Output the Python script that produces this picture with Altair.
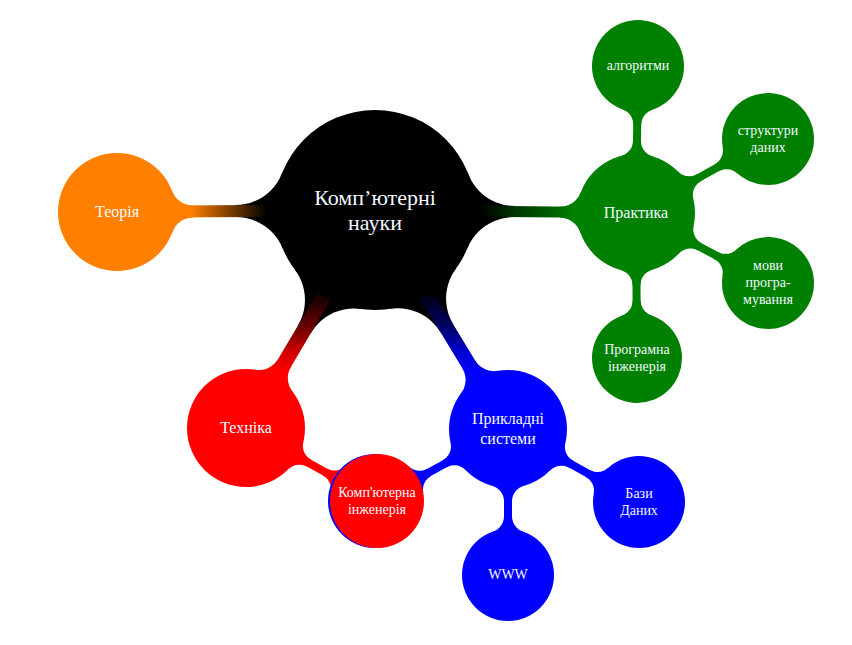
import math
import altair as alt
import pandas as pd

# ---------------- data ----------------
node_id = ["root", "theory", "practice", "algo", "struct", "lang", "softeng",
           "tech", "applied", "compeng", "db", "www"]
node_label = ["Комп’ютерні\nнауки", "Теорія", "Практика", "алгоритми",
              "структури\nданих", "мови\nпрогра-\nмування", "Програмна\nінженерія",
              "Техніка", "Прикладні\nсистеми", "Комп'ютерна\nінженерія",
              "Бази\nДаних", "WWW"]
node_x = [375, 117, 636, 638, 768, 768, 637, 246, 508, 377, 639, 508]
node_y = [210, 212, 213, 66, 139, 283, 358, 428, 429, 501, 502, 575]
node_r = [100, 59, 59, 46, 46, 46, 45, 59, 59, 47, 46, 46]
node_color = ["#000000", "#FF8000", "#008000", "#008000", "#008000", "#008000",
              "#008000", "#FF0000", "#0000FF", "#FF0000", "#0000FF", "#0000FF"]
node_font = [22, 16, 16, 14, 14, 14, 14, 16, 16, 14, 14, 14]

main_from = ["root", "root", "root", "root"]
main_to = ["theory", "practice", "tech", "applied"]

sub_from = ["practice", "practice", "practice", "practice",
            "tech", "applied", "applied", "applied"]
sub_to = ["algo", "struct", "lang", "softeng",
          "compeng", "compeng", "db", "www"]

# ---------------- styles ----------------
ROOT_FILLET = 50
CHILD_FILLET = 22
SUB_FILLET = 16
NECK = {"theory": 12, "practice": 11, "tech": 15, "applied": 15}
SUB_NECK = 8
LINE_HEIGHT = {22: 25, 16: 20, 14: 17}

pos = {k: (x, y, r, c) for k, x, y, r, c in zip(node_id, node_x, node_y, node_r, node_color)}

blocks, whites, necks = [], [], []
trails = {}


def end_piece(cx, cy, r, ux, uy, n, f, col):
    """fillet block + two carving circles at one end of a connector (u points outwards)"""
    vx, vy = -uy, ux
    off = n / 2 + f
    xc = math.sqrt((r + f) ** 2 - off ** 2)
    ht = off * r / (r + f)
    blocks.append(dict(x=cx, y=cy, x2=cx + ux * xc, y2=cy + uy * xc, w=2 * ht + 0.6, c=col))
    for sgn in (1, -1):
        whites.append(dict(x=cx + ux * xc + sgn * vx * off, y=cy + uy * xc + sgn * vy * off, r=f))


def connector(a, b, n, fa, fb, ca, cb, neck_color=None):
    ax, ay, ar, _ = pos[a]
    bx, by, br, _ = pos[b]
    dx, dy = bx - ax, by - ay
    L = math.hypot(dx, dy)
    ux, uy = dx / L, dy / L
    end_piece(ax, ay, ar, ux, uy, n, fa, ca)
    end_piece(bx, by, br, -ux, -uy, n, fb, cb)
    if neck_color is not None:
        necks.append(dict(x=ax, y=ay, x2=bx, y2=by, w=n, c=neck_color))
    else:
        s0, s1 = ar - 3, L - br + 3
        trails[b] = pd.DataFrame({"x": [ax + ux * s0, ax + ux * s1],
                                  "y": [ay + uy * s0, ay + uy * s1],
                                  "w": [n, n], "i": [0, 1]})


for a, b in zip(main_from, main_to):
    connector(a, b, NECK[b], ROOT_FILLET, CHILD_FILLET, pos[a][3], pos[b][3])
for a, b in zip(sub_from, sub_to):
    connector(a, b, SUB_NECK, SUB_FILLET, SUB_FILLET, pos[a][3], pos[a][3], pos[a][3])

X = alt.X("x:Q", scale=alt.Scale(domain=[8, 844]), axis=None)
Y = alt.Y("y:Q", scale=alt.Scale(domain=[8, 637], reverse=True), axis=None)


def stops(pairs):
    return [alt.GradientStop(offset=o, color=c) for o, c in pairs]


gradients = {
    "theory": alt.Gradient(gradient="linear", x1=0, y1=0, x2=1, y2=0, stops=stops([
        (0, "#FF8000"), (0.2, "#FF8000"), (0.5, "#8A4500"), (0.85, "#000000"), (1, "#000000")])),
    "practice": alt.Gradient(gradient="linear", x1=0, y1=0, x2=1, y2=0, stops=stops([
        (0, "#000000"), (0.12, "#000000"), (0.42, "#003800"), (0.72, "#006000"),
        (0.9, "#008000"), (1, "#008000")])),
    "tech": alt.Gradient(gradient="linear", x1=0, y1=0, x2=0, y2=1, stops=stops([
        (0, "#000000"), (0.1, "#150000"), (0.38, "#600000"), (0.65, "#D00000"),
        (0.85, "#FF0000"), (1, "#FF0000")])),
    "applied": alt.Gradient(gradient="linear", x1=0, y1=0, x2=0, y2=1, stops=stops([
        (0, "#000000"), (0.1, "#000015"), (0.38, "#000060"), (0.65, "#0000D0"),
        (0.85, "#0000FF"), (1, "#0000FF")])),
}

layers = []
layers.append(
    alt.Chart(pd.DataFrame(blocks)).mark_rule(strokeCap="butt").encode(
        x=X, y=Y, x2="x2:Q", y2="y2:Q", size=alt.Size("w:Q", scale=None),
        color=alt.Color("c:N", scale=None))
)
layers.append(
    alt.Chart(pd.DataFrame(whites)).mark_circle(opacity=1, strokeWidth=0, color="white")
    .transform_calculate(area="4 * datum.r * datum.r")
    .encode(x=X, y=Y, size=alt.Size("area:Q", scale=None))
)
layers.append(
    alt.Chart(pd.DataFrame(necks)).mark_rule(strokeCap="butt").encode(
        x=X, y=Y, x2="x2:Q", y2="y2:Q", size=alt.Size("w:Q", scale=None),
        color=alt.Color("c:N", scale=None))
)
for b in main_to:
    layers.append(
        alt.Chart(trails[b]).mark_trail(color=gradients[b]).encode(
            x=X, y=Y, size=alt.Size("w:Q", scale=None), order=alt.Order("i:Q"))
    )

nodes = pd.DataFrame({"id": node_id, "label": node_label, "x": node_x, "y": node_y,
                      "r": node_r, "c": node_color, "fs": node_font})

# blue rim under the shared "Комп'ютерна інженерія" node
under = nodes[nodes["id"] == "compeng"].copy()
under["x"] = under["x"] - 2
under["c"] = "#0000FF"
circles_df = pd.concat([under, nodes], ignore_index=True)
circles_df["ord"] = range(len(circles_df))

layers.append(
    alt.Chart(circles_df).mark_circle(opacity=1, strokeWidth=0).transform_calculate(
        area="4 * datum.r * datum.r"
    ).encode(
        x=X, y=Y, size=alt.Size("area:Q", scale=None),
        color=alt.Color("c:N", scale=None), order=alt.Order("ord:Q"))
)

# vertically centre multi-line labels on their node
nodes["nl"] = nodes["label"].str.count("\n")
nodes["ty"] = nodes["y"] - nodes["nl"] * nodes["fs"].map(LINE_HEIGHT) / 2

for fs, lh in LINE_HEIGHT.items():
    sub = nodes[nodes["fs"] == fs]
    layers.append(
        alt.Chart(sub).mark_text(font="Liberation Serif", fontSize=fs, color="#F2F8FF",
                                 lineBreak="\n", lineHeight=lh, align="center",
                                 baseline="middle").encode(
            x=X, y=alt.Y("ty:Q", scale=alt.Scale(domain=[8, 637], reverse=True), axis=None),
            text="label:N")
    )

chart = alt.layer(*layers).properties(
    width=836, height=629, padding=0
).configure_view(stroke=None)

chart.save("out.html", embed_options={"renderer": "svg", "actions": False})
